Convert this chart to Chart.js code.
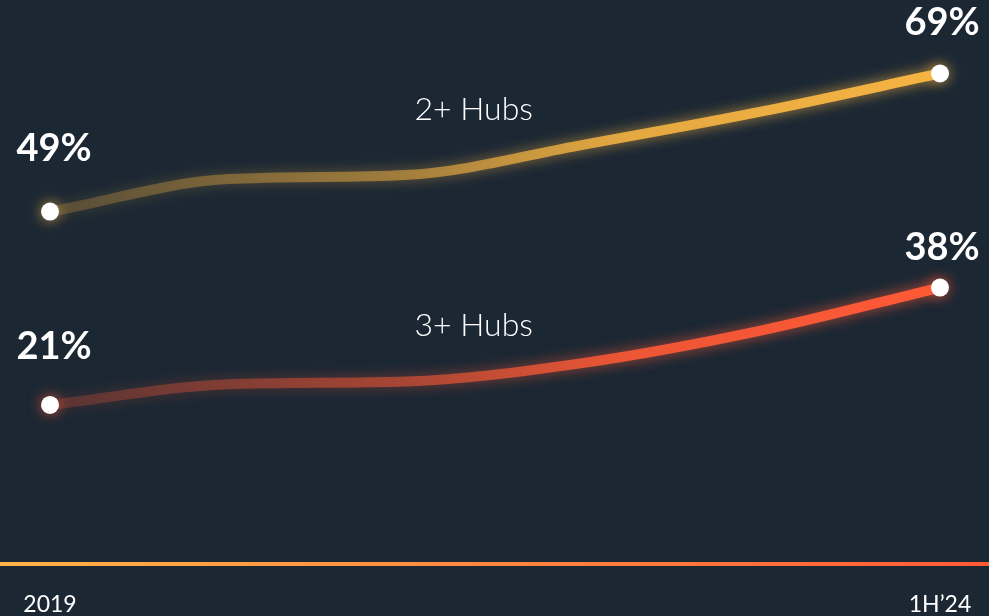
<!DOCTYPE html>
<html>
<head>
    <title>Hub share</title>
    <script src="https://cdn.jsdelivr.net/npm/chart.js"></script>
    <style>
        html, body { margin: 0; padding: 0; background: #1b2733; }
        #wrap { width: 989px; height: 616px; position: relative; }
    </style>
</head>
<body>
    <div id="wrap"><canvas id="hubChart"></canvas></div>
<script>
// periods along the x axis, only the ends get a label
const periods = ['2019', '', '', '', '', '1H’24'];
// share of users, percent
const twoPlusHubs = [49, 53.7, 54.3, 58.7, 63.5, 69];
const threePlusHubs = [21, 24.0, 24.4, 27.1, 31.8, 38];
const seriesNames = ['2+ Hubs', '3+ Hubs'];

const FONT = 'Lato, "Open Sans", sans-serif';

// left-to-right fade for a line, rgb given as "r,g,b"
function fadeIn(context, rgb) {
    const area = context.chart.chartArea;
    if (!area) return 'rgb(' + rgb + ')';
    const g = context.chart.ctx.createLinearGradient(area.left, 0, area.right, 0);
    g.addColorStop(0, 'rgba(' + rgb + ',0.2)');
    g.addColorStop(0.4, 'rgba(' + rgb + ',0.52)');
    g.addColorStop(0.65, 'rgba(' + rgb + ',0.88)');
    g.addColorStop(1, 'rgba(' + rgb + ',1)');
    return g;
}

// soft glow behind each line
const glowPlugin = {
    id: 'glow',
    beforeDatasetDraw(chart, args) {
        const ctx = chart.ctx;
        ctx.save();
        ctx.shadowColor = chart.data.datasets[args.index].glow;
        ctx.shadowBlur = 14;
    },
    afterDatasetDraw(chart) {
        chart.ctx.restore();
    }
};

// end values above the dots and the series names
const labelPlugin = {
    id: 'labels',
    afterDatasetsDraw(chart) {
        const ctx = chart.ctx;
        const xs = chart.scales.x, ys = chart.scales.y;
        ctx.save();
        ctx.fillStyle = '#ffffff';
        ctx.textAlign = 'center';
        ctx.textBaseline = 'middle';
        chart.data.datasets.forEach((ds, i) => {
            const pts = chart.getDatasetMeta(i).data;
            const first = pts[0], last = pts[pts.length - 1];
            ctx.font = 'bold 38px ' + FONT;
            ctx.fillText(ds.data[0] + '%', first.x + 4, first.y - ds.leftGap);
            ctx.fillText(ds.data[ds.data.length - 1] + '%', last.x + 2, last.y - ds.rightGap);
            ctx.font = '300 32px ' + FONT;
            ctx.fillText(ds.label, xs.getPixelForValue(ds.nameAt[0]), ys.getPixelForValue(ds.nameAt[1]));
        });
        ctx.restore();
    }
};

// orange rule under the plot, full width
const rulePlugin = {
    id: 'rule',
    afterDraw(chart) {
        const ctx = chart.ctx;
        const y = chart.chartArea.bottom + 14;
        const g = ctx.createLinearGradient(0, 0, chart.width, 0);
        g.addColorStop(0, '#ffb347');
        g.addColorStop(1, '#ff5a36');
        ctx.save();
        ctx.strokeStyle = g;
        ctx.lineWidth = 4;
        ctx.beginPath();
        ctx.moveTo(0, y);
        ctx.lineTo(chart.width, y);
        ctx.stroke();
        ctx.restore();
    }
};

const endDot = c => (c.dataIndex === 0 || c.dataIndex === periods.length - 1) ? 9 : 0;

new Chart(document.getElementById('hubChart'), {
    type: 'line',
    data: {
        labels: periods,
        datasets: [{
            label: seriesNames[0],
            data: twoPlusHubs,
            borderColor: c => fadeIn(c, '246,180,67'),
            glow: 'rgba(246,180,67,0.75)',
            nameAt: [2.38, 63.8],
            leftGap: 63,
            rightGap: 51,
            borderWidth: 10,
            cubicInterpolationMode: 'monotone',
            clip: false,
            pointRadius: endDot,
            pointHoverRadius: endDot,
            pointBackgroundColor: '#ffffff',
            pointBorderWidth: 0
        }, {
            label: seriesNames[1],
            data: threePlusHubs,
            borderColor: c => fadeIn(c, '255,90,54'),
            glow: 'rgba(255,90,54,0.75)',
            nameAt: [2.38, 32.5],
            leftGap: 58,
            rightGap: 40,
            borderWidth: 10,
            cubicInterpolationMode: 'monotone',
            clip: false,
            pointRadius: endDot,
            pointHoverRadius: endDot,
            pointBackgroundColor: '#ffffff',
            pointBorderWidth: 0
        }]
    },
    options: {
        responsive: true,
        maintainAspectRatio: false,
        animation: false,
        layout: { autoPadding: false, padding: { top: 32, left: 50, right: 49, bottom: 0 } },
        plugins: { legend: { display: false }, tooltip: { enabled: false } },
        scales: {
            y: { display: false, min: 0, max: 75 },
            x: {
                grid: { display: false, drawTicks: false },
                border: { display: false },
                ticks: {
                    color: '#ffffff',
                    font: { family: FONT, size: 23 },
                    padding: 41,
                    autoSkip: false,
                    maxRotation: 0
                },
                afterFit(axis) {
                    axis.height = 66;
                    axis.paddingLeft = 0;
                    axis.paddingRight = 0;
                }
            }
        }
    },
    plugins: [glowPlugin, labelPlugin, rulePlugin]
});
</script>
</body>
</html>
